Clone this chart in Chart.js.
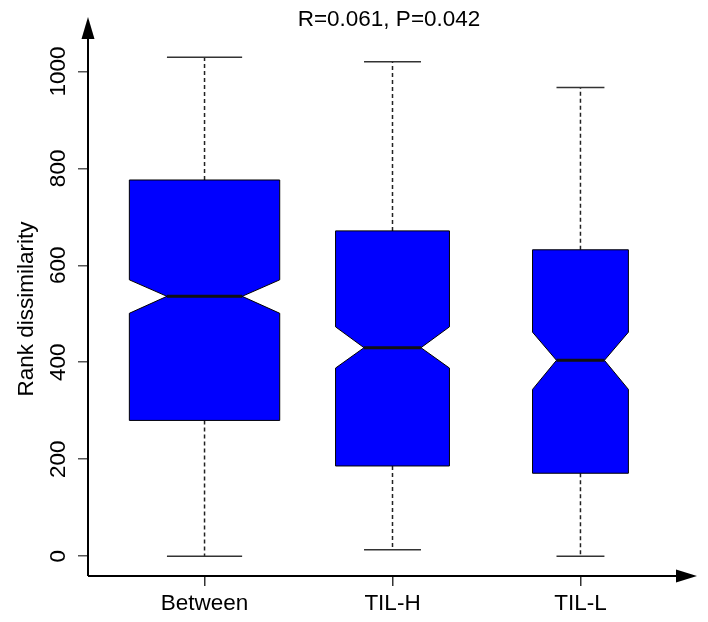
<!DOCTYPE html>
<html>
<head>
<meta charset="utf-8">
<script src="https://cdn.jsdelivr.net/npm/chart.js@4/dist/chart.umd.min.js"></script>
<style>
  html, body { margin: 0; padding: 0; background: #fff; }
  #wrap { width: 708px; height: 622px; }
</style>
</head>
<body>
<div id="wrap"><canvas id="boxChart" width="708" height="622"></canvas></div>
<script>
// data
const categories = ['Between', 'TIL-H', 'TIL-L'];
const whiskerLow = [0, 13, 0];
const q1 = [280, 186, 171];
const notchLow = [501, 388, 344];
const median = [536, 430, 404];
const notchHigh = [570, 473, 462];
const q3 = [776, 671, 632];
const whiskerHigh = [1029, 1020, 967];
const yTicks = [0, 200, 400, 600, 800, 1000];
const titleText = 'R=0.061, P=0.042';
const yTitle = 'Rank dissimilarity';

// half box width in x units (varwidth boxes)
const boxHalf = [0.40, 0.303, 0.255];

const FONT = '"Liberation Sans", Arial, Helvetica, sans-serif';
const FSIZE = 22.5;

Chart.defaults.font.family = FONT;
Chart.defaults.font.size = FSIZE;
Chart.defaults.color = '#000';

const boxPlugin = {
    id: 'notchedBoxes',
    afterDatasetsDraw(chart) {
        const ctx = chart.ctx;
        const x = chart.scales.x;
        const y = chart.scales.y;
        ctx.save();
        categories.forEach((c, i) => {
            const cx = x.getPixelForValue(i + 1);
            const half = x.getPixelForValue(i + 1 + boxHalf[i]) - cx;
            const L = cx - half, R = cx + half;
            const n = half / 2;
            const yq1 = y.getPixelForValue(q1[i]);
            const yq3 = y.getPixelForValue(q3[i]);
            const ynl = y.getPixelForValue(notchLow[i]);
            const ynh = y.getPixelForValue(notchHigh[i]);
            const ym = y.getPixelForValue(median[i]);
            const ylo = y.getPixelForValue(whiskerLow[i]);
            const yhi = y.getPixelForValue(whiskerHigh[i]);

            // whiskers
            ctx.strokeStyle = '#222';
            ctx.lineWidth = 1.5;
            ctx.setLineDash([4, 3]);
            ctx.beginPath();
            ctx.moveTo(cx, yq3); ctx.lineTo(cx, yhi);
            ctx.moveTo(cx, yq1); ctx.lineTo(cx, ylo);
            ctx.stroke();
            ctx.setLineDash([]);
            ctx.strokeStyle = '#333';
            ctx.beginPath();
            ctx.moveTo(cx - n, yhi); ctx.lineTo(cx + n, yhi);
            ctx.moveTo(cx - n, ylo); ctx.lineTo(cx + n, ylo);
            ctx.stroke();

            // notched box
            ctx.beginPath();
            ctx.moveTo(L, yq3);
            ctx.lineTo(R, yq3);
            ctx.lineTo(R, ynh);
            ctx.lineTo(cx + n, ym);
            ctx.lineTo(R, ynl);
            ctx.lineTo(R, yq1);
            ctx.lineTo(L, yq1);
            ctx.lineTo(L, ynl);
            ctx.lineTo(cx - n, ym);
            ctx.lineTo(L, ynh);
            ctx.closePath();
            ctx.fillStyle = '#0000ff';
            ctx.fill();
            ctx.strokeStyle = '#000';
            ctx.lineWidth = 1;
            ctx.stroke();

            // median
            ctx.lineWidth = 3;
            ctx.strokeStyle = '#111';
            ctx.beginPath();
            ctx.moveTo(cx - n, ym); ctx.lineTo(cx + n, ym);
            ctx.stroke();
        });
        ctx.restore();
    },
    afterDraw(chart) {
        const ctx = chart.ctx;
        const a = chart.chartArea;
        const y = chart.scales.y;
        ctx.save();
        // axes with arrows
        ctx.strokeStyle = '#000';
        ctx.fillStyle = '#000';
        ctx.lineWidth = 2;
        ctx.beginPath();
        ctx.moveTo(a.left, a.bottom); ctx.lineTo(a.left, a.top - 2);
        ctx.moveTo(a.left, a.bottom); ctx.lineTo(a.right - 21, a.bottom);
        ctx.stroke();
        ctx.beginPath();
        ctx.moveTo(a.left, a.top - 20);
        ctx.lineTo(a.left - 6.5, a.top + 2);
        ctx.lineTo(a.left + 6.5, a.top + 2);
        ctx.closePath();
        ctx.fill();
        ctx.beginPath();
        ctx.moveTo(a.right, a.bottom);
        ctx.lineTo(a.right - 21, a.bottom - 6.5);
        ctx.lineTo(a.right - 21, a.bottom + 6.5);
        ctx.closePath();
        ctx.fill();

        // y tick labels, rotated like R's las=0
        ctx.font = FSIZE + 'px ' + FONT;
        ctx.textAlign = 'center';
        ctx.textBaseline = 'alphabetic';
        yTicks.forEach(v => {
            ctx.save();
            ctx.translate(a.left - 23, y.getPixelForValue(v));
            ctx.rotate(-Math.PI / 2);
            ctx.fillText(String(v), 0, 0);
            ctx.restore();
        });

        // y axis title
        ctx.save();
        ctx.translate(33, 309);
        ctx.rotate(-Math.PI / 2);
        ctx.fillText(yTitle, 0, 0);
        ctx.restore();

        // main title
        ctx.fillText(titleText, 389, 26);
        ctx.restore();
    }
};

const config = {
    type: 'scatter',
    data: {
        datasets: [{
            label: 'median',
            data: median.map((m, i) => ({ x: i + 1, y: m })),
            pointRadius: 0
        }]
    },
    options: {
        responsive: false,
        animation: false,
        layout: { padding: { top: 37, right: 11, left: 0, bottom: 0 } },
        plugins: {
            legend: { display: false },
            tooltip: { enabled: false }
        },
        scales: {
            x: {
                type: 'linear',
                min: 0.38,
                max: 3.62,
                afterBuildTicks: s => { s.ticks = categories.map((_, i) => ({ value: i + 1 })); },
                afterFit: s => { s.height = 46; },
                border: { display: false },
                grid: { drawOnChartArea: false, tickLength: 10, tickColor: '#333', lineWidth: 1.5 },
                ticks: {
                    autoSkip: false,
                    maxRotation: 0,
                    padding: 4,
                    color: '#000',
                    callback: (v, i) => categories[i]
                }
            },
            y: {
                type: 'linear',
                min: -41,
                max: 1071,
                afterBuildTicks: s => { s.ticks = yTicks.map(v => ({ value: v })); },
                afterFit: s => { s.width = 88; },
                border: { display: false },
                grid: { drawOnChartArea: false, tickLength: 10, tickColor: '#555', lineWidth: 1.5 },
                ticks: { display: false }
            }
        }
    },
    plugins: [boxPlugin]
};

window.onload = function() {
    const ctx = document.getElementById('boxChart').getContext('2d');
    new Chart(ctx, config);
};
</script>
</body>
</html>
